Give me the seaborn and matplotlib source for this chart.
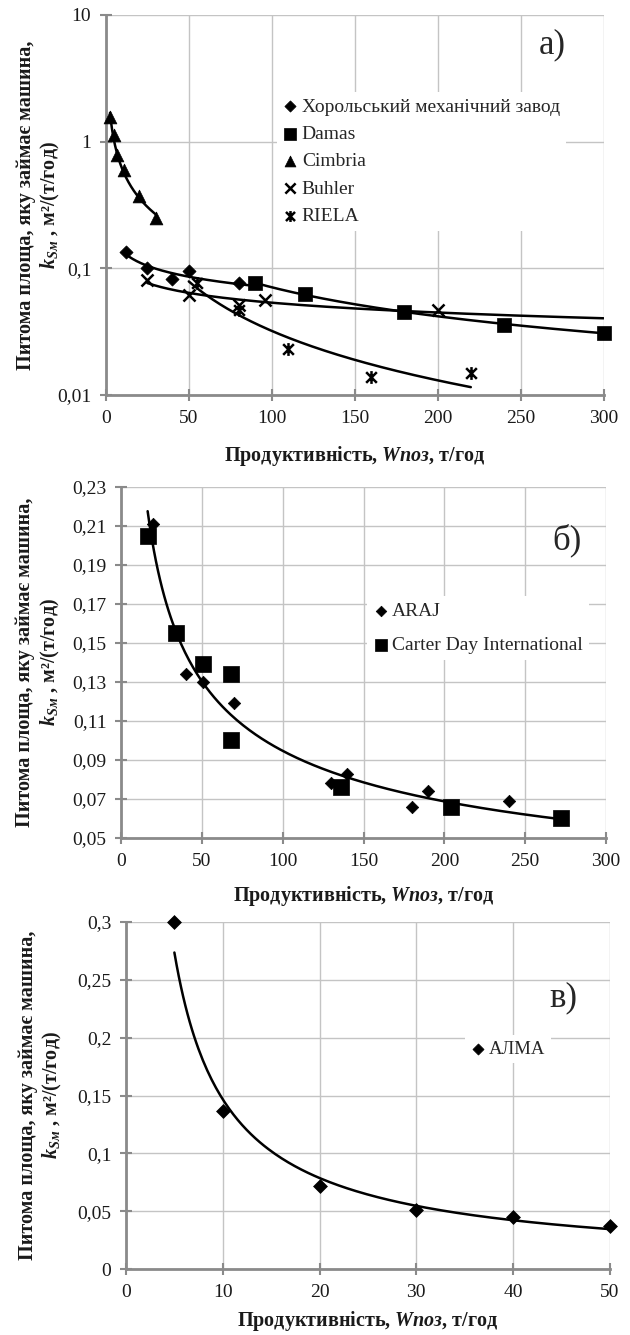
import numpy as np
import matplotlib
matplotlib.use("Agg")
import matplotlib.pyplot as plt
from matplotlib.path import Path
from matplotlib.ticker import FuncFormatter, NullLocator
import seaborn as sns

# ---- панель а) ----
khorol_x = [12, 25, 40, 50, 80]
khorol_y = [0.135, 0.100, 0.082, 0.095, 0.076]
damas_x = [90, 120, 180, 240, 300]
damas_y = [0.076, 0.063, 0.045, 0.036, 0.031]
cimbria_x = [2.5, 5, 6.5, 11, 20, 30]
cimbria_y = [1.57, 1.13, 0.78, 0.60, 0.37, 0.25]
buhler_x = [25, 50, 80, 96, 200]
buhler_y = [0.081, 0.062, 0.051, 0.056, 0.047]
riela_x = [55, 80, 110, 160, 220]
riela_y = [0.076, 0.047, 0.023, 0.014, 0.0148]

# ---- панель б) ----
araj_x = [20, 40, 51, 70, 130, 140, 180, 190, 240]
araj_y = [0.211, 0.134, 0.130, 0.119, 0.078, 0.083, 0.066, 0.074, 0.069]
carter_x = [16.5, 34, 51, 68, 68, 136, 204, 272]
carter_y = [0.205, 0.155, 0.139, 0.134, 0.100, 0.076, 0.066, 0.060]

# ---- панель в) ----
alma_x = [5, 10, 20, 30, 40, 50]
alma_y = [0.300, 0.137, 0.072, 0.051, 0.045, 0.037]

a_xticks = [0, 50, 100, 150, 200, 250, 300]
a_yticks = [0.01, 0.1, 1, 10]
b_xticks = [0, 50, 100, 150, 200, 250, 300]
b_yticks = [0.05, 0.07, 0.09, 0.11, 0.13, 0.15, 0.17, 0.19, 0.21, 0.23]
c_xticks = [0, 10, 20, 30, 40, 50]
c_yticks = [0, 0.05, 0.1, 0.15, 0.2, 0.25, 0.3]

ylab = "Питома площа, яку займає машина,\n$\\mathbfit{k}_{\\mathbfit{Sм}}$ , м²/(т/год)"
xlab = "Продуктивність, $\\mathbfit{Wпоз}$, т/год"

sns.set_theme(style="white")
plt.rcParams["font.family"] = ["Liberation Serif", "DejaVu Serif"]
plt.rcParams["mathtext.fontset"] = "custom"
plt.rcParams["mathtext.rm"] = "Liberation Serif"
plt.rcParams["mathtext.it"] = "Liberation Serif:italic"
plt.rcParams["mathtext.bf"] = "Liberation Serif:bold"
plt.rcParams["mathtext.bfit"] = "Liberation Serif:italic:bold"

# зірочка RIELA: хрест + вертикальна риска
star = Path([(-1, -1), (1, 1), (-1, 1), (1, -1), (0, -1.2), (0, 1.2)],
            [Path.MOVETO, Path.LINETO] * 3)

comma = FuncFormatter(lambda v, p: f"{v:g}".replace(".", ","))


def power_line(ax, x, y, x0=None, x1=None):
    b, a = np.polyfit(np.log(x), np.log(y), 1)
    xs = np.linspace(x0 if x0 else min(x), x1 if x1 else max(x), 200)
    sns.lineplot(x=xs, y=np.exp(a) * xs ** b, color="black", lw=1.8, ax=ax, zorder=2)


def points(ax, x, y, marker, s, label, lw=0.5, edge="black"):
    sns.scatterplot(x=x, y=y, marker=marker, s=s, color="black", edgecolor=edge,
                    linewidth=lw, label=label, ax=ax, zorder=3, clip_on=False)


def style(ax, xt, yt):
    ax.set_xticks(xt)
    ax.set_yticks(yt)
    ax.set_xlim(xt[0], xt[-1])
    ax.set_ylim(yt[0], yt[-1])
    ax.xaxis.set_major_formatter(comma)
    ax.yaxis.set_major_formatter(comma)
    ax.grid(True, color="#c4c4c4", linewidth=1.0)
    ax.set_axisbelow(True)
    for sp in ["top", "right"]:
        ax.spines[sp].set_visible(False)
    for sp in ["left", "bottom"]:
        ax.spines[sp].set_color("#8a8a8a")
        ax.spines[sp].set_linewidth(2)
    ax.tick_params(bottom=True, left=True, direction="inout", length=9, width=1.5,
                   color="#8a8a8a", labelsize=14, pad=6, labelcolor="#1a1a1a")
    ax.set_xlabel(xlab, fontsize=14.5, fontweight="bold", color="#1a1a1a")
    ax.set_ylabel(ylab, fontsize=14.5, fontweight="bold", color="#1a1a1a")
    ax.xaxis.set_label_coords(0.5, -0.13)


fig = plt.figure(figsize=(6.3, 13.35), dpi=100)
ax_a = fig.add_axes([0.168, 0.7041, 0.790, 0.2847])
ax_b = fig.add_axes([0.192, 0.3723, 0.770, 0.2629])
ax_c = fig.add_axes([0.200, 0.0494, 0.768, 0.2600])

# ---- а) ----
ax_a.set_yscale("log")
power_line(ax_a, khorol_x, khorol_y, 11, 86)
power_line(ax_a, damas_x, damas_y)
power_line(ax_a, cimbria_x, cimbria_y)
power_line(ax_a, buhler_x, buhler_y, 25, 300)
power_line(ax_a, riela_x, riela_y, 50, 220)
points(ax_a, khorol_x, khorol_y, "D", 45, "Хорольський механічний завод")
points(ax_a, damas_x, damas_y, "s", 95, "Damas")
points(ax_a, cimbria_x, cimbria_y, "^", 85, "Cimbria")
points(ax_a, buhler_x, buhler_y, "x", 75, "Buhler", lw=1.8, edge=None)
points(ax_a, riela_x, riela_y, star, 85, "RIELA", lw=1.8)
style(ax_a, a_xticks, a_yticks)
ax_a.yaxis.set_minor_locator(NullLocator())
ax_a.yaxis.set_label_coords(-0.088, 0.5)
ax_a.legend(loc="upper left", bbox_to_anchor=(0.343, 0.797), frameon=True, facecolor="white",
            edgecolor="none", fancybox=False, framealpha=1, fontsize=14, borderpad=0.3,
            labelspacing=0.5, handlelength=0.8, handletextpad=0.2, borderaxespad=0,
            markerscale=0.85)
ax_a.text(0.896, 0.921, "а)", transform=ax_a.transAxes, fontsize=25, ha="center", va="center")

# ---- б) ----
power_line(ax_b, araj_x + carter_x, araj_y + carter_y)
points(ax_b, araj_x, araj_y, "D", 40, "ARAJ")
points(ax_b, carter_x, carter_y, "s", 120, "Carter Day International")
style(ax_b, b_xticks, b_yticks)
ax_b.yaxis.set_label_coords(-0.122, 0.5)
ax_b.legend(loc="upper left", bbox_to_anchor=(0.507, 0.689), frameon=True, facecolor="white",
            edgecolor="none", fancybox=False, framealpha=1, fontsize=14, borderpad=0.3,
            labelspacing=0.85, handlelength=0.8, handletextpad=0.2, borderaxespad=0,
            markerscale=0.85)
ax_b.text(0.92, 0.849, "б)", transform=ax_b.transAxes, fontsize=25, ha="center", va="center")

# ---- в) ----
power_line(ax_c, alma_x, alma_y)
points(ax_c, alma_x, alma_y, "D", 50, "АЛМА")
style(ax_c, c_xticks, c_yticks)
ax_c.yaxis.set_label_coords(-0.128, 0.5)
ax_c.xaxis.set_label_coords(0.5, -0.115)
ax_c.legend(loc="upper left", bbox_to_anchor=(0.70, 0.674), frameon=True, facecolor="white",
            edgecolor="none", fancybox=False, framealpha=1, fontsize=13.5, borderpad=0.3,
            handlelength=0.8, handletextpad=0.2, borderaxespad=0, markerscale=0.8)
ax_c.text(0.903, 0.781, "в)", transform=ax_c.transAxes, fontsize=25, ha="center", va="center")

fig.savefig("out.png", dpi=100)
